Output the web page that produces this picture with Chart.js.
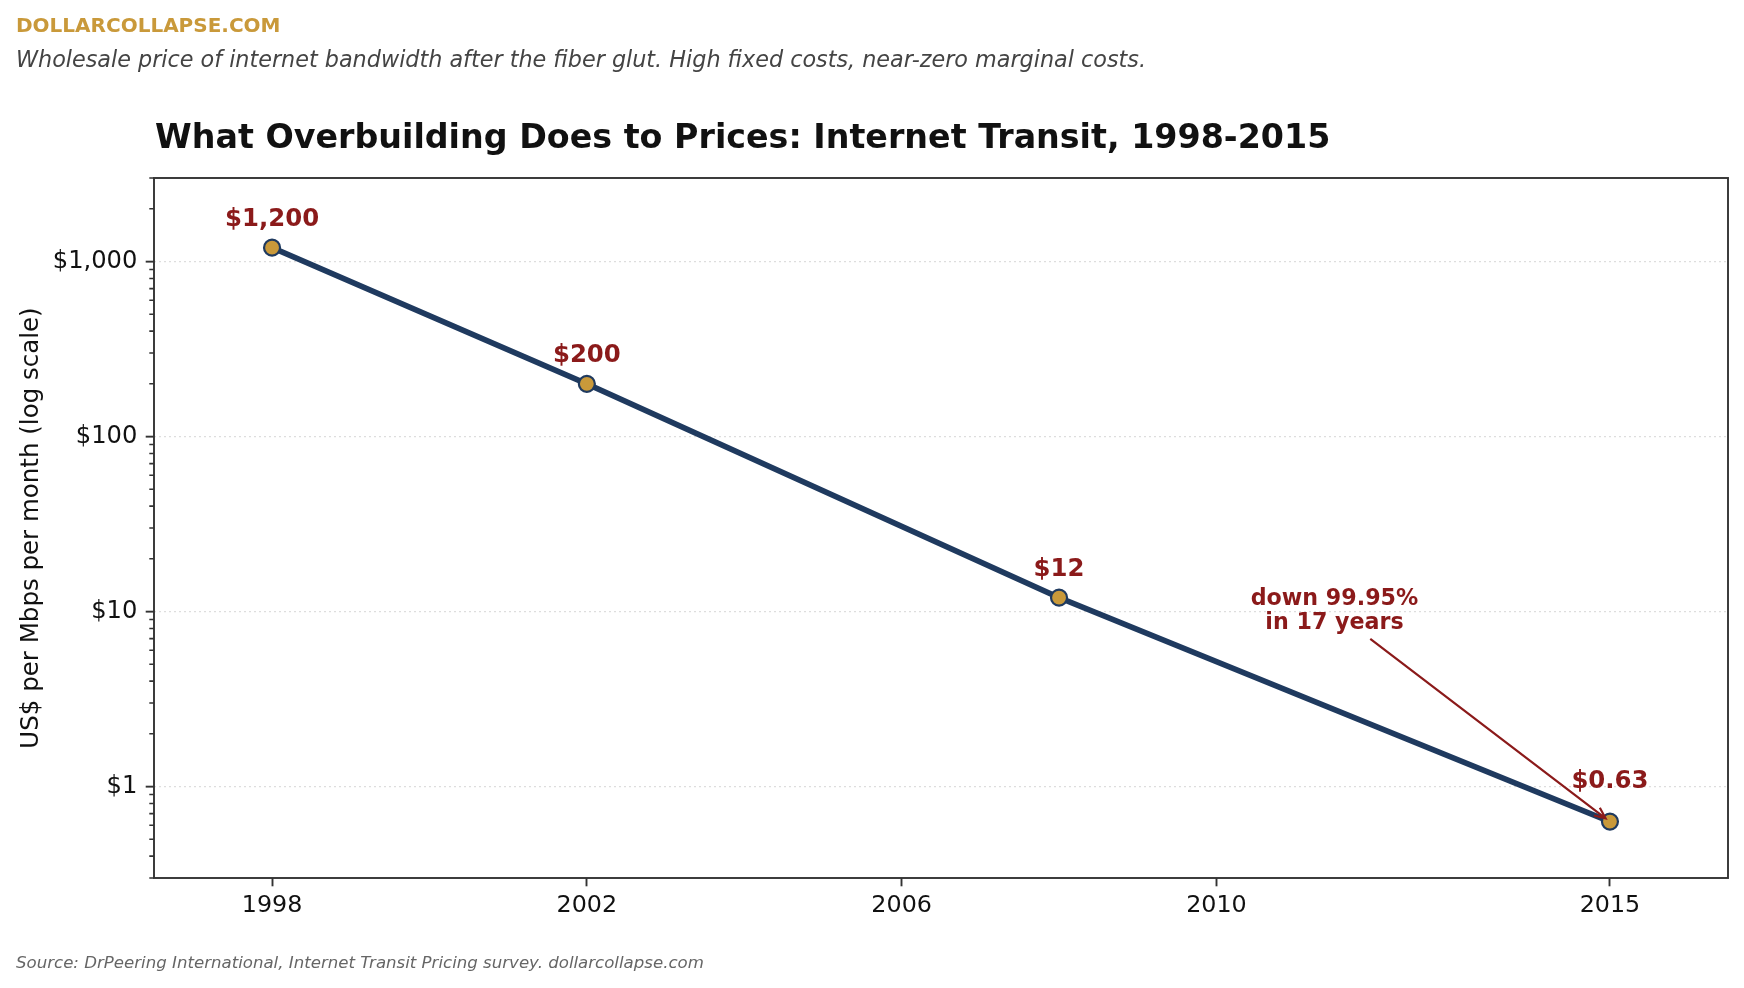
<!DOCTYPE html>
<html><head><meta charset="utf-8">
<script src="https://cdn.jsdelivr.net/npm/chart.js@4.4.1/dist/chart.umd.min.js"></script>
<style>
html,body{margin:0;padding:0;background:#fff;}
#wrap{position:relative;width:1744px;height:988px;overflow:hidden;font-family:'DejaVu Sans',sans-serif;background:#fff;}
#wrap canvas{position:absolute;left:0;top:0;}
.t{position:absolute;white-space:nowrap;line-height:1;font-family:'DejaVu Sans',sans-serif;}
</style></head><body>
<div id="wrap">
<canvas id="c" width="1744" height="988" style="width:1744px;height:988px;"></canvas>
<div class="t" style="left:16px;top:15px;font-size:20px;font-weight:bold;color:#C9993A;">DOLLARCOLLAPSE.COM</div>
<div class="t" style="left:16px;top:47.5px;font-size:22.3px;font-style:italic;color:#444;">Wholesale price of internet bandwidth after the fiber glut. High fixed costs, near-zero marginal costs.</div>
<div class="t" style="left:155px;top:119.5px;font-size:33.3px;font-weight:bold;color:#111;">What Overbuilding Does to Prices: Internet Transit, 1998-2015</div>
<div class="t" style="left:16px;top:955px;font-size:16.6px;font-style:italic;color:#666;">Source: DrPeering International, Internet Transit Pricing survey. dollarcollapse.com</div>
</div>
<script>
// ---- data ----
const years = [1998, 2002, 2008, 2015];
const prices = [1200, 200, 12, 0.63];
const xTicks = [1998, 2002, 2006, 2010, 2015];
const yMajorTicks = [1, 10, 100, 1000];
const yTickLabels = ['$1', '$10', '$100', '$1,000'];
const yMinorTicks = [0.3, 0.4, 0.5, 0.6, 0.7, 0.8, 0.9,
  2, 3, 4, 5, 6, 7, 8, 9,
  20, 30, 40, 50, 60, 70, 80, 90,
  200, 300, 400, 500, 600, 700, 800, 900,
  2000, 3000];
const annotationLines = ['down 99.95%', 'in 17 years'];
const annotationAt = {x: 2011.5, y: 10};
const xRange = [1996.5, 2016.5];
const yRange = [0.3, 3000];

const NAVY = '#1F3A5F', GOLD = '#C9993A', RED = '#8B1A1A', DARK = '#333333';
const FONT = "'DejaVu Sans', sans-serif";
const isMajor = v => yMajorTicks.indexOf(v) >= 0;

function fmtPrice(v) {
  return v >= 1 ? '$' + v.toLocaleString('en-US') : '$' + v.toFixed(2);
}

const framePlugin = {
  id: 'frame',
  beforeDatasetsDraw(chart) {
    const {ctx, chartArea: a, scales} = chart;
    ctx.save();
    ctx.strokeStyle = DARK;
    ctx.lineWidth = 1.6;
    ctx.beginPath();
    yMinorTicks.forEach(v => {
      const y = scales.y.getPixelForValue(v);
      ctx.moveTo(a.left - 4.7, y);
      ctx.lineTo(a.left, y);
    });
    ctx.stroke();
    ctx.lineWidth = 1.9;
    ctx.strokeRect(a.left, a.top, a.right - a.left, a.bottom - a.top);
    ctx.restore();
  }
};

const labelPlugin = {
  id: 'pointLabels',
  afterDatasetsDraw(chart) {
    const {ctx, scales} = chart;
    const meta = chart.getDatasetMeta(0);
    ctx.save();
    ctx.fillStyle = RED;
    ctx.textAlign = 'center';
    ctx.textBaseline = 'alphabetic';
    ctx.font = 'bold 24.4px ' + FONT;
    meta.data.forEach((pt, i) => {
      const off = i === meta.data.length - 1 ? 34 : 22;
      ctx.fillText(fmtPrice(prices[i]), pt.x, pt.y - off);
    });
    const cx = scales.x.getPixelForValue(annotationAt.x);
    const cy = scales.y.getPixelForValue(annotationAt.y);
    ctx.font = 'bold 22.2px ' + FONT;
    ctx.fillText(annotationLines[0], cx, cy - 6.3);
    ctx.fillText(annotationLines[1], cx, cy + 17.3);
    const last = meta.data[meta.data.length - 1];
    const dx = last.x - cx, dy = last.y - cy;
    const halfH = 27.3;
    const sx = cx + dx * (halfH / dy), sy = cy + halfH;
    const len = Math.hypot(last.x - sx, last.y - sy);
    const ux = (last.x - sx) / len, uy = (last.y - sy) / len;
    const ex = last.x - ux * 5.5, ey = last.y - uy * 5.5;
    ctx.strokeStyle = RED;
    ctx.lineWidth = 2.2;
    ctx.beginPath();
    ctx.moveTo(sx, sy);
    ctx.lineTo(ex, ey);
    const ang = Math.atan2(uy, ux);
    const hl = 12, ha = 0.42;
    ctx.moveTo(ex - hl * Math.cos(ang - ha), ey - hl * Math.sin(ang - ha));
    ctx.lineTo(ex, ey);
    ctx.lineTo(ex - hl * Math.cos(ang + ha), ey - hl * Math.sin(ang + ha));
    ctx.stroke();
    ctx.restore();
  }
};

new Chart(document.getElementById('c'), {
  type: 'line',
  data: {
    datasets: [{
      data: years.map((x, i) => ({x: x, y: prices[i]})),
      borderColor: NAVY,
      borderWidth: 5.6,
      pointRadius: 8,
      pointBackgroundColor: GOLD,
      pointBorderColor: NAVY,
      pointBorderWidth: 2.2,
      tension: 0,
      clip: false
    }]
  },
  options: {
    responsive: false,
    animation: false,
    devicePixelRatio: 1,
    layout: {padding: {top: 178, right: 16, bottom: 50, left: 0}},
    plugins: {legend: {display: false}, tooltip: {enabled: false}},
    scales: {
      x: {
        type: 'linear',
        min: xRange[0], max: xRange[1],
        afterBuildTicks: s => { s.ticks = xTicks.map(v => ({value: v})); },
        afterFit: s => { s.height = 60; },
        ticks: {
          autoSkip: false, maxRotation: 0,
          callback: v => String(v),
          color: '#111', padding: 5.5,
          font: {family: FONT, size: 23.8}
        },
        grid: {drawOnChartArea: false, drawTicks: true, tickLength: 8.3, tickWidth: 1.9, tickColor: DARK, color: DARK},
        border: {display: false}
      },
      y: {
        type: 'logarithmic',
        min: yRange[0], max: yRange[1],
        afterBuildTicks: s => {
          const all = yMinorTicks.concat(yMajorTicks).sort((a, b) => a - b);
          s.ticks = all.map(v => ({value: v}));
        },
        afterFit: s => { s.width = 154; },
        ticks: {
          autoSkip: false,
          callback: v => { const i = yMajorTicks.indexOf(v); return i >= 0 ? yTickLabels[i] : ''; },
          color: '#111', padding: 8.3,
          font: {family: FONT, size: 24.2}
        },
        grid: {
          drawTicks: true, tickLength: 8.3, tickWidth: 1.9,
          lineWidth: 1.3,
          color: c => (c.tick && isMajor(c.tick.value)) ? '#dddddd' : 'rgba(0,0,0,0)',
          tickColor: c => (c.tick && isMajor(c.tick.value)) ? DARK : 'rgba(0,0,0,0)'
        },
        border: {display: false, dash: [2, 3]},
        title: {
          display: true,
          text: 'US$ per Mbps per month (log scale)',
          color: '#111',
          font: {family: FONT, size: 24.5},
          padding: {top: 17, bottom: 0}
        }
      }
    }
  },
  plugins: [framePlugin, labelPlugin]
});
</script>
</body></html>
